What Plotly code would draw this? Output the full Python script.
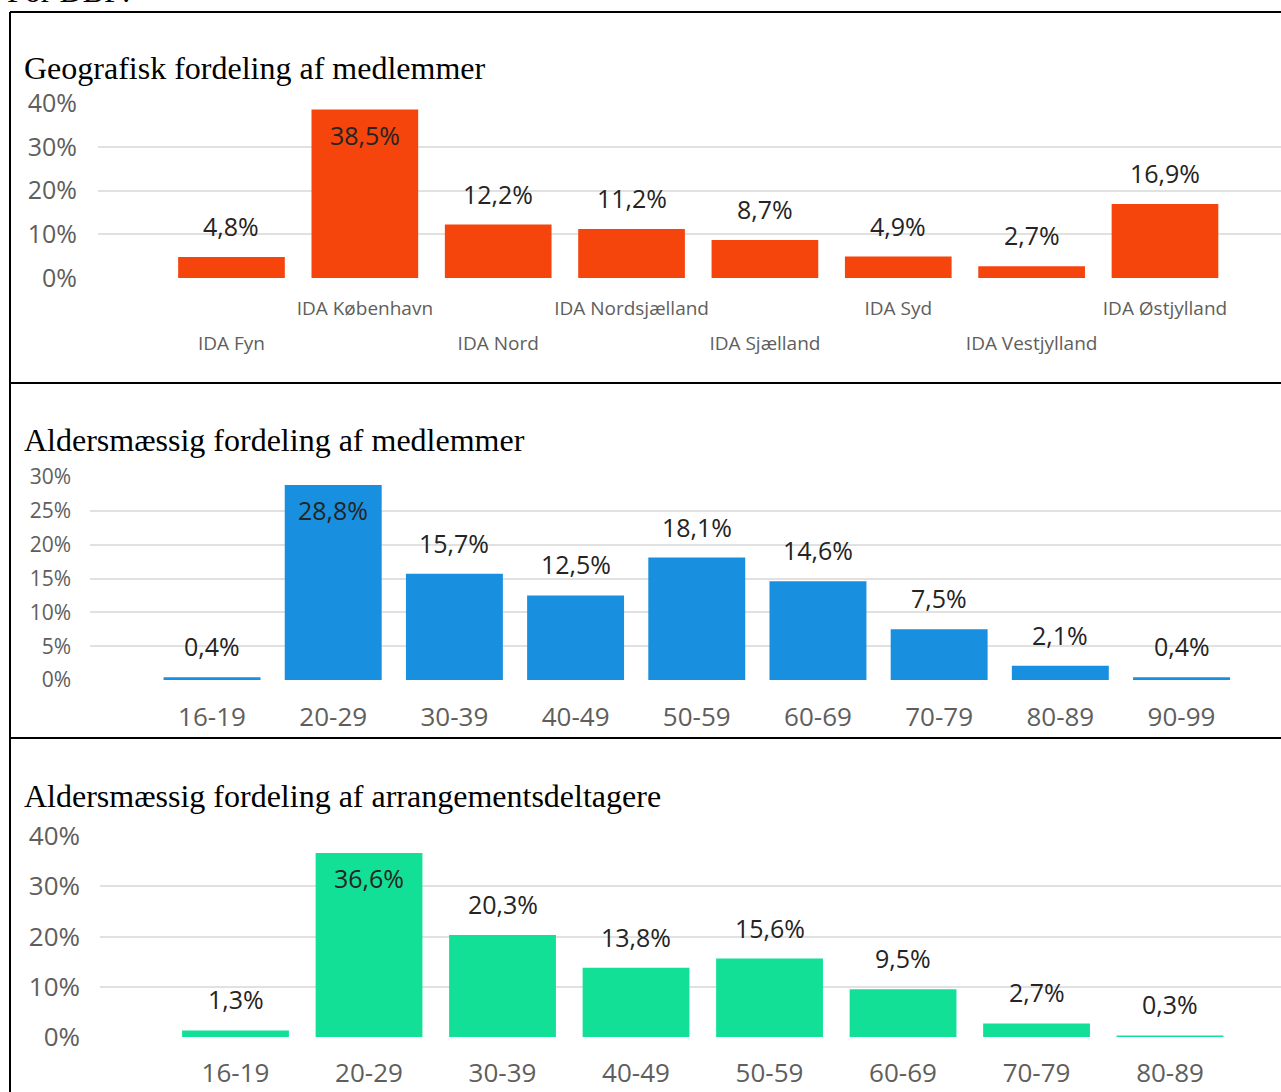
import plotly.graph_objects as go

# ---------------- data ----------------
geo_categories = ["IDA Fyn", "IDA København", "IDA Nord", "IDA Nordsjælland",
                  "IDA Sjælland", "IDA Syd", "IDA Vestjylland", "IDA Østjylland"]
geo_values = [4.8, 38.5, 12.2, 11.2, 8.7, 4.9, 2.7, 16.9]

age_members_categories = ["16-19", "20-29", "30-39", "40-49", "50-59",
                          "60-69", "70-79", "80-89", "90-99"]
age_members_values = [0.4, 28.8, 15.7, 12.5, 18.1, 14.6, 7.5, 2.1, 0.4]

age_events_categories = ["16-19", "20-29", "30-39", "40-49", "50-59",
                         "60-69", "70-79", "80-89"]
age_events_values = [1.3, 36.6, 20.3, 13.8, 15.6, 9.5, 2.7, 0.3]

geo_ticks = [0, 10, 20, 30, 40]
age_members_ticks = [0, 5, 10, 15, 20, 25, 30]
age_events_ticks = [0, 10, 20, 30, 40]

titles = ["Geografisk fordeling af medlemmer",
          "Aldersmæssig fordeling af medlemmer",
          "Aldersmæssig fordeling af arrangementsdeltagere"]
header_text = "For DBF:"

# ---------------- style ----------------
W, H = 1281, 1092
ORANGE = "#F5450D"
BLUE = "#1890DF"
GREEN = "#12E096"
GRID = "#E1E1E1"
TICK = "#605E5C"
LABEL = "#252423"
SANS = "Open Sans, Noto Sans, sans-serif"
SERIF = "Liberation Serif, Times New Roman, serif"


def px_x(p):
    return p / W


def px_y(p):
    return 1 - p / H


def fmt(v):
    return f"{v:.1f}".replace(".", ",") + "%"


def pct(v):
    return f"{v}%"


fig = go.Figure()

charts = [
    dict(cats=geo_categories, vals=geo_values, color=ORANGE, xa="x", ya="y"),
    dict(cats=age_members_categories, vals=age_members_values, color=BLUE, xa="x2", ya="y2"),
    dict(cats=age_events_categories, vals=age_events_values, color=GREEN, xa="x3", ya="y3"),
]

annotations = []
for ch in charts:
    idx = list(range(len(ch["cats"])))
    fig.add_trace(go.Bar(
        x=idx, y=ch["vals"], width=0.8,
        marker=dict(color=ch["color"], line=dict(width=0)),
        xaxis=ch["xa"], yaxis=ch["ya"], showlegend=False, hoverinfo="skip",
    ))
    vmax = max(ch["vals"])
    for i, v in zip(idx, ch["vals"]):
        inside = v == vmax
        annotations.append(dict(
            x=i, y=v, xref=ch["xa"], yref=ch["ya"], text=fmt(v), showarrow=False,
            yanchor="middle", xanchor="center", yshift=-25 if inside else 31,
            font=dict(family=SANS, size=25, color=LABEL),
        ))

# invisible trace for the overlay axis (second row of geo labels)
fig.add_trace(go.Scatter(x=[0], y=[0], xaxis="x4", yaxis="y", mode="markers",
                         marker=dict(opacity=0), showlegend=False, hoverinfo="skip"))

upper_idx = [i for i in range(len(geo_categories)) if i % 2 == 1]
lower_idx = [i for i in range(len(geo_categories)) if i % 2 == 0]

common_x = dict(showgrid=False, zeroline=False, showline=False, ticks="",
                fixedrange=True, automargin=False)
common_y = dict(showgrid=True, gridcolor=GRID, gridwidth=2, zeroline=False,
                showline=False, ticks="", fixedrange=True, automargin=False,
                tickmode="array")

fig.update_layout(
    width=W, height=H,
    margin=dict(l=0, r=0, t=0, b=0, pad=0),
    paper_bgcolor="white", plot_bgcolor="white",
    xaxis=dict(domain=[px_x(98), 1], range=[-1.001, 7.870], anchor="y",
               tickmode="array", tickvals=upper_idx,
               ticktext=[geo_categories[i] for i in upper_idx],
               tickfont=dict(family=SANS, size=19, color=TICK),
               ticklabelstandoff=17, **common_x),
    xaxis4=dict(overlaying="x", matches="x", anchor="y",
                tickmode="array", tickvals=lower_idx,
                ticktext=[geo_categories[i] for i in lower_idx],
                tickfont=dict(family=SANS, size=19, color=TICK),
                ticklabelstandoff=52, **common_x),
    yaxis=dict(domain=[px_y(278), px_y(103)], range=[0, 40], anchor="x",
               tickvals=geo_ticks, ticktext=[pct(v) for v in geo_ticks],
               tickfont=dict(family=SANS, size=25, color=TICK),
               ticklabelstandoff=20, **common_y),
    xaxis2=dict(domain=[px_x(90), 1], range=[-1.007, 8.821], anchor="y2",
                tickmode="array", tickvals=list(range(len(age_members_categories))),
                ticktext=age_members_categories,
                tickfont=dict(family=SANS, size=26, color=TICK),
                ticklabelstandoff=19, **common_x),
    yaxis2=dict(domain=[px_y(680), px_y(477)], range=[0, 30], anchor="x2",
                tickvals=age_members_ticks, ticktext=[pct(v) for v in age_members_ticks],
                tickfont=dict(family=SANS, size=21, color=TICK),
                ticklabelstandoff=18, **common_y),
    xaxis3=dict(domain=[px_x(100), 1], range=[-1.015, 7.831], anchor="y3",
                tickmode="array", tickvals=list(range(len(age_events_categories))),
                ticktext=age_events_categories,
                tickfont=dict(family=SANS, size=26, color=TICK),
                ticklabelstandoff=18, **common_x),
    yaxis3=dict(domain=[px_y(1037), px_y(836)], range=[0, 40], anchor="x3",
                tickvals=age_events_ticks, ticktext=[pct(v) for v in age_events_ticks],
                tickfont=dict(family=SANS, size=26, color=TICK),
                ticklabelstandoff=19, **common_y),
)

# titles
for t, ypix in zip(titles, [68, 440, 796]):
    annotations.append(dict(
        x=px_x(22), y=px_y(ypix), xref="paper", yref="paper", text=t,
        showarrow=False, xanchor="left", yanchor="middle",
        font=dict(family=SERIF, size=32, color="black"),
    ))

annotations.append(dict(
    x=px_x(5), y=px_y(-9), xref="paper", yref="paper", text=header_text,
    showarrow=False, xanchor="left", yanchor="middle",
    font=dict(family=SERIF, size=32, color="black"),
))

# table borders
shapes = []
for ypix in [12, 383, 738]:
    shapes.append(dict(type="line", xref="paper", yref="paper",
                       x0=px_x(10), x1=1, y0=px_y(ypix), y1=px_y(ypix),
                       line=dict(color="black", width=2)))
shapes.append(dict(type="line", xref="paper", yref="paper",
                   x0=px_x(10), x1=px_x(10), y0=px_y(12), y1=0,
                   line=dict(color="black", width=2)))

fig.update_layout(annotations=annotations, shapes=shapes)

fig.write_html(
    "out.html",
    config={"displayModeBar": False, "staticPlot": True},
    post_script="document.body.style.margin='0';document.body.style.overflow='hidden';",
)
